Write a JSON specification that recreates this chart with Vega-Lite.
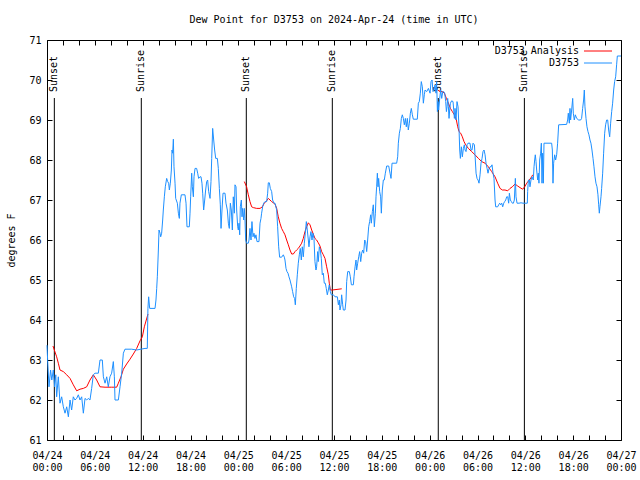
{
  "$schema": "https://vega.github.io/schema/vega-lite/v6.json",
  "width": 574,
  "height": 400,
  "autosize": {"type": "none"},
  "padding": {"left": 47, "top": 40, "right": 19, "bottom": 40},
  "background": "white",
  "config": {
    "view": {"stroke": "#000000", "strokeWidth": 1},
    "font": "DejaVu Sans Mono",
    "axis": {"domain": false, "grid": false, "tickColor": "#000000", "tickWidth": 1, "labelColor": "#000000", "labelFont": "DejaVu Sans Mono", "labelFontSize": 10, "titleFont": "DejaVu Sans Mono", "titleFontSize": 10, "titleFontWeight": "normal", "titleColor": "#000000"}
  },
  "title": {"text": "Dew Point for D3753 on 2024-Apr-24 (time in UTC)", "anchor": "middle", "font": "DejaVu Sans Mono", "fontSize": 10, "fontWeight": "normal", "color": "#000000", "offset": 10},
  "datasets": {
    "sun": [
      {"h": 0.92, "event": "Sunset"},
      {"h": 11.83, "event": "Sunrise"},
      {"h": 25.0, "event": "Sunset"},
      {"h": 35.79, "event": "Sunrise"},
      {"h": 49.08, "event": "Sunset"},
      {"h": 59.88, "event": "Sunrise"}
    ],
    "analysis": [
      {"h": 0.75, "v": 63.35, "seg": 1}, {"h": 0.92, "v": 63.25, "seg": 1}, {"h": 1.21, "v": 63.08, "seg": 1}, {"h": 1.42, "v": 62.92, "seg": 1}, {"h": 1.63, "v": 62.75, "seg": 1}, {"h": 2.05, "v": 62.71, "seg": 1}, {"h": 2.47, "v": 62.63, "seg": 1}, {"h": 2.89, "v": 62.54, "seg": 1}, {"h": 3.3, "v": 62.38, "seg": 1}, {"h": 3.72, "v": 62.23, "seg": 1}, {"h": 4.14, "v": 62.27, "seg": 1}, {"h": 4.56, "v": 62.29, "seg": 1}, {"h": 4.98, "v": 62.33, "seg": 1}, {"h": 5.39, "v": 62.5, "seg": 1}, {"h": 5.81, "v": 62.63, "seg": 1}, {"h": 6.23, "v": 62.5, "seg": 1}, {"h": 6.65, "v": 62.33, "seg": 1}, {"h": 7.28, "v": 62.32, "seg": 1}, {"h": 8.11, "v": 62.32, "seg": 1}, {"h": 8.74, "v": 62.32, "seg": 1}, {"h": 8.95, "v": 62.42, "seg": 1}, {"h": 9.28, "v": 62.58, "seg": 1}, {"h": 9.58, "v": 62.77, "seg": 1}, {"h": 9.99, "v": 62.9, "seg": 1}, {"h": 10.41, "v": 63.02, "seg": 1}, {"h": 10.83, "v": 63.15, "seg": 1}, {"h": 11.25, "v": 63.29, "seg": 1}, {"h": 11.67, "v": 63.48, "seg": 1}, {"h": 11.96, "v": 63.58, "seg": 1}, {"h": 12.21, "v": 63.83, "seg": 1}, {"h": 12.67, "v": 64.15, "seg": 1},
      {"h": 24.75, "v": 67.46, "seg": 2}, {"h": 25.04, "v": 67.33, "seg": 2}, {"h": 25.25, "v": 67.13, "seg": 2}, {"h": 25.46, "v": 66.96, "seg": 2}, {"h": 25.67, "v": 66.83, "seg": 2}, {"h": 25.88, "v": 66.81, "seg": 2}, {"h": 26.3, "v": 66.79, "seg": 2}, {"h": 26.72, "v": 66.79, "seg": 2}, {"h": 27.01, "v": 66.83, "seg": 2}, {"h": 27.26, "v": 66.92, "seg": 2}, {"h": 27.55, "v": 66.98, "seg": 2}, {"h": 27.76, "v": 67.04, "seg": 2}, {"h": 28.18, "v": 66.96, "seg": 2}, {"h": 28.6, "v": 66.9, "seg": 2}, {"h": 28.81, "v": 66.79, "seg": 2}, {"h": 29.01, "v": 66.58, "seg": 2}, {"h": 29.22, "v": 66.42, "seg": 2}, {"h": 29.43, "v": 66.29, "seg": 2}, {"h": 29.64, "v": 66.21, "seg": 2}, {"h": 29.85, "v": 66.13, "seg": 2}, {"h": 30.06, "v": 66.0, "seg": 2}, {"h": 30.27, "v": 65.88, "seg": 2}, {"h": 30.48, "v": 65.75, "seg": 2}, {"h": 30.69, "v": 65.65, "seg": 2}, {"h": 30.9, "v": 65.65, "seg": 2}, {"h": 31.11, "v": 65.71, "seg": 2}, {"h": 31.31, "v": 65.75, "seg": 2}, {"h": 31.52, "v": 65.79, "seg": 2}, {"h": 31.73, "v": 65.85, "seg": 2}, {"h": 31.94, "v": 65.92, "seg": 2}, {"h": 32.15, "v": 66.04, "seg": 2}, {"h": 32.36, "v": 66.21, "seg": 2}, {"h": 32.57, "v": 66.33, "seg": 2}, {"h": 32.78, "v": 66.43, "seg": 2}, {"h": 32.99, "v": 66.38, "seg": 2}, {"h": 33.2, "v": 66.25, "seg": 2}, {"h": 33.4, "v": 66.15, "seg": 2}, {"h": 33.61, "v": 66.04, "seg": 2}, {"h": 33.82, "v": 66.0, "seg": 2}, {"h": 34.03, "v": 65.93, "seg": 2}, {"h": 34.24, "v": 65.85, "seg": 2}, {"h": 34.45, "v": 65.71, "seg": 2}, {"h": 34.66, "v": 65.63, "seg": 2}, {"h": 34.87, "v": 65.54, "seg": 2}, {"h": 35.08, "v": 65.33, "seg": 2}, {"h": 35.29, "v": 65.13, "seg": 2}, {"h": 35.41, "v": 64.92, "seg": 2}, {"h": 35.54, "v": 64.75, "seg": 2}, {"h": 35.79, "v": 64.75, "seg": 2}, {"h": 36.97, "v": 64.78, "seg": 2},
      {"h": 49.01, "v": 69.75, "seg": 3}, {"h": 49.3, "v": 69.71, "seg": 3}, {"h": 49.59, "v": 69.71, "seg": 3}, {"h": 49.84, "v": 69.67, "seg": 3}, {"h": 50.1, "v": 69.54, "seg": 3}, {"h": 50.35, "v": 69.42, "seg": 3}, {"h": 50.6, "v": 69.29, "seg": 3}, {"h": 50.85, "v": 69.21, "seg": 3}, {"h": 51.1, "v": 69.13, "seg": 3}, {"h": 51.35, "v": 69.0, "seg": 3}, {"h": 51.52, "v": 68.83, "seg": 3}, {"h": 51.68, "v": 68.71, "seg": 3}, {"h": 51.89, "v": 68.67, "seg": 3}, {"h": 52.1, "v": 68.58, "seg": 3}, {"h": 52.31, "v": 68.46, "seg": 3}, {"h": 52.52, "v": 68.38, "seg": 3}, {"h": 52.85, "v": 68.29, "seg": 3}, {"h": 53.27, "v": 68.21, "seg": 3}, {"h": 53.69, "v": 68.13, "seg": 3}, {"h": 54.11, "v": 68.04, "seg": 3}, {"h": 54.53, "v": 67.96, "seg": 3}, {"h": 54.95, "v": 67.92, "seg": 3}, {"h": 55.36, "v": 67.83, "seg": 3}, {"h": 55.78, "v": 67.71, "seg": 3}, {"h": 56.2, "v": 67.58, "seg": 3}, {"h": 56.53, "v": 67.42, "seg": 3}, {"h": 56.83, "v": 67.29, "seg": 3}, {"h": 57.12, "v": 67.25, "seg": 3}, {"h": 57.45, "v": 67.25, "seg": 3}, {"h": 57.79, "v": 67.23, "seg": 3}, {"h": 58.08, "v": 67.29, "seg": 3}, {"h": 58.37, "v": 67.33, "seg": 3}, {"h": 58.71, "v": 67.4, "seg": 3}, {"h": 59.04, "v": 67.35, "seg": 3}, {"h": 59.33, "v": 67.31, "seg": 3}, {"h": 59.66, "v": 67.27, "seg": 3}, {"h": 59.92, "v": 67.33, "seg": 3}, {"h": 60.17, "v": 67.42, "seg": 3}, {"h": 60.5, "v": 67.5, "seg": 3}, {"h": 60.79, "v": 67.58, "seg": 3}, {"h": 60.92, "v": 67.63, "seg": 3}
    ],
    "obs": [
      {"h": 0, "v": 63.37}, {"h": 0.08, "v": 63.0}, {"h": 0.25, "v": 62.33}, {"h": 0.45, "v": 62.75}, {"h": 0.6, "v": 62.5}, {"h": 0.79, "v": 62.75}, {"h": 0.95, "v": 62.33}, {"h": 1.1, "v": 62.63}, {"h": 1.21, "v": 62.08}, {"h": 1.42, "v": 62.58}, {"h": 1.63, "v": 61.92}, {"h": 1.84, "v": 62.08}, {"h": 2.05, "v": 61.83}, {"h": 2.26, "v": 61.67}, {"h": 2.47, "v": 61.83}, {"h": 2.68, "v": 61.58}, {"h": 2.89, "v": 62.0}, {"h": 3.09, "v": 61.75}, {"h": 3.3, "v": 62.08}, {"h": 3.51, "v": 62.0}, {"h": 3.72, "v": 62.04}, {"h": 3.93, "v": 62.13}, {"h": 4.14, "v": 62.0}, {"h": 4.35, "v": 62.08}, {"h": 4.56, "v": 61.67}, {"h": 4.77, "v": 62.04}, {"h": 4.98, "v": 62.0}, {"h": 5.18, "v": 62.04}, {"h": 5.39, "v": 62.0}, {"h": 5.6, "v": 62.29}, {"h": 5.81, "v": 62.63}, {"h": 6.02, "v": 62.67}, {"h": 6.44, "v": 62.67}, {"h": 6.65, "v": 63.0}, {"h": 6.94, "v": 63.0}, {"h": 7.07, "v": 62.58}, {"h": 7.28, "v": 62.42}, {"h": 7.49, "v": 62.58}, {"h": 7.69, "v": 62.33}, {"h": 7.9, "v": 62.58}, {"h": 8.11, "v": 62.67}, {"h": 8.32, "v": 62.96}, {"h": 8.45, "v": 62.58}, {"h": 8.53, "v": 62.0}, {"h": 8.95, "v": 62.0}, {"h": 9.16, "v": 62.33}, {"h": 9.37, "v": 62.67}, {"h": 9.58, "v": 63.17}, {"h": 9.78, "v": 63.27}, {"h": 10.62, "v": 63.27}, {"h": 11.25, "v": 63.25}, {"h": 12.29, "v": 63.29}, {"h": 12.58, "v": 63.29}, {"h": 12.66, "v": 64.29}, {"h": 12.75, "v": 64.58}, {"h": 12.88, "v": 64.29}, {"h": 13.55, "v": 64.29}, {"h": 13.67, "v": 64.5}, {"h": 13.76, "v": 64.79}, {"h": 13.84, "v": 65.08}, {"h": 13.97, "v": 65.75}, {"h": 14.05, "v": 66.25}, {"h": 14.18, "v": 66.17}, {"h": 14.26, "v": 66.08}, {"h": 14.38, "v": 66.17}, {"h": 14.51, "v": 66.5}, {"h": 14.59, "v": 66.75}, {"h": 14.72, "v": 67.08}, {"h": 14.84, "v": 67.33}, {"h": 15.01, "v": 67.54}, {"h": 15.14, "v": 67.46}, {"h": 15.26, "v": 67.42}, {"h": 15.35, "v": 67.25}, {"h": 15.47, "v": 67.42}, {"h": 15.6, "v": 67.75}, {"h": 15.68, "v": 68.25}, {"h": 15.76, "v": 68.17}, {"h": 15.85, "v": 68.52}, {"h": 15.93, "v": 67.83}, {"h": 16.06, "v": 67.42}, {"h": 16.14, "v": 67.04}, {"h": 16.35, "v": 66.92}, {"h": 16.48, "v": 66.67}, {"h": 16.6, "v": 66.54}, {"h": 16.68, "v": 66.92}, {"h": 16.85, "v": 67.13}, {"h": 17.31, "v": 67.13}, {"h": 17.44, "v": 66.92}, {"h": 17.56, "v": 66.33}, {"h": 17.85, "v": 66.33}, {"h": 17.94, "v": 66.67}, {"h": 18.02, "v": 67.08}, {"h": 18.15, "v": 67.67}, {"h": 18.23, "v": 67.33}, {"h": 18.36, "v": 67.08}, {"h": 18.44, "v": 67.58}, {"h": 18.57, "v": 67.79}, {"h": 18.77, "v": 67.79}, {"h": 18.9, "v": 67.67}, {"h": 19.02, "v": 67.54}, {"h": 19.19, "v": 67.58}, {"h": 19.32, "v": 67.58}, {"h": 19.44, "v": 67.42}, {"h": 19.53, "v": 67.17}, {"h": 19.65, "v": 66.75}, {"h": 19.78, "v": 67.0}, {"h": 19.9, "v": 67.25}, {"h": 20.03, "v": 67.46}, {"h": 20.15, "v": 67.5}, {"h": 20.28, "v": 67.21}, {"h": 20.45, "v": 67.04}, {"h": 20.57, "v": 67.46}, {"h": 20.66, "v": 68.04}, {"h": 20.78, "v": 68.79}, {"h": 20.91, "v": 68.5}, {"h": 21.03, "v": 68.25}, {"h": 21.16, "v": 68.04}, {"h": 21.37, "v": 68.04}, {"h": 21.49, "v": 67.79}, {"h": 21.62, "v": 67.29}, {"h": 21.74, "v": 66.88}, {"h": 21.83, "v": 66.29}, {"h": 21.95, "v": 66.75}, {"h": 22.08, "v": 67.17}, {"h": 22.33, "v": 67.17}, {"h": 22.45, "v": 66.92}, {"h": 22.62, "v": 66.75}, {"h": 22.75, "v": 66.42}, {"h": 22.87, "v": 66.29}, {"h": 23.0, "v": 66.92}, {"h": 23.12, "v": 66.75}, {"h": 23.25, "v": 66.25}, {"h": 23.37, "v": 67.08}, {"h": 23.5, "v": 66.67}, {"h": 23.58, "v": 67.38},
      {"h": 23.71, "v": 67.33}, {"h": 23.79, "v": 66.75}, {"h": 23.92, "v": 66.33}, {"h": 24.0, "v": 66.25}, {"h": 24.08, "v": 66.42}, {"h": 24.17, "v": 66.13}, {"h": 24.25, "v": 66.83}, {"h": 24.38, "v": 67.0}, {"h": 24.46, "v": 66.58}, {"h": 24.54, "v": 66.79}, {"h": 24.67, "v": 66.5}, {"h": 24.75, "v": 66.79}, {"h": 24.83, "v": 66.54}, {"h": 24.92, "v": 66.0}, {"h": 25.04, "v": 65.92}, {"h": 25.25, "v": 65.92}, {"h": 25.34, "v": 66.0}, {"h": 25.46, "v": 66.29}, {"h": 25.59, "v": 66.0}, {"h": 25.71, "v": 66.46}, {"h": 25.84, "v": 66.08}, {"h": 25.96, "v": 66.17}, {"h": 26.09, "v": 66.04}, {"h": 26.21, "v": 66.13}, {"h": 26.34, "v": 65.96}, {"h": 26.59, "v": 65.96}, {"h": 26.72, "v": 66.42}, {"h": 26.84, "v": 66.54}, {"h": 26.92, "v": 66.67}, {"h": 27.05, "v": 66.83}, {"h": 27.18, "v": 66.92}, {"h": 27.34, "v": 66.96}, {"h": 27.55, "v": 66.96}, {"h": 27.68, "v": 67.17}, {"h": 27.76, "v": 67.43}, {"h": 27.89, "v": 67.43}, {"h": 28.01, "v": 67.29}, {"h": 28.18, "v": 67.21}, {"h": 28.3, "v": 67.0}, {"h": 28.47, "v": 66.92}, {"h": 28.6, "v": 66.92}, {"h": 28.81, "v": 66.75}, {"h": 28.93, "v": 66.33}, {"h": 29.06, "v": 65.83}, {"h": 29.18, "v": 65.57}, {"h": 29.43, "v": 65.57}, {"h": 29.64, "v": 65.63}, {"h": 29.77, "v": 65.57}, {"h": 29.85, "v": 65.5}, {"h": 29.98, "v": 65.29}, {"h": 30.1, "v": 65.21}, {"h": 30.23, "v": 65.17}, {"h": 30.35, "v": 65.08}, {"h": 30.48, "v": 65.0}, {"h": 30.69, "v": 64.83}, {"h": 30.81, "v": 64.71}, {"h": 30.94, "v": 64.58}, {"h": 31.06, "v": 64.54}, {"h": 31.15, "v": 64.38}, {"h": 31.27, "v": 64.79}, {"h": 31.4, "v": 65.13}, {"h": 31.52, "v": 65.42}, {"h": 31.65, "v": 65.63}, {"h": 31.77, "v": 65.79}, {"h": 31.9, "v": 65.5}, {"h": 32.02, "v": 65.83}, {"h": 32.15, "v": 65.58}, {"h": 32.28, "v": 65.92}, {"h": 32.4, "v": 66.17}, {"h": 32.53, "v": 66.46}, {"h": 32.65, "v": 66.25}, {"h": 32.78, "v": 66.0}, {"h": 32.86, "v": 65.83}, {"h": 32.99, "v": 66.08}, {"h": 33.11, "v": 66.21}, {"h": 33.24, "v": 66.0}, {"h": 33.36, "v": 66.17}, {"h": 33.49, "v": 66.04}, {"h": 33.61, "v": 65.46}, {"h": 33.74, "v": 65.25}, {"h": 33.82, "v": 65.33}, {"h": 33.95, "v": 65.71}, {"h": 34.03, "v": 65.46}, {"h": 34.16, "v": 65.83}, {"h": 34.28, "v": 65.75}, {"h": 34.41, "v": 65.54}, {"h": 34.53, "v": 65.13}, {"h": 34.66, "v": 65.17}, {"h": 34.78, "v": 64.92}, {"h": 34.91, "v": 64.92}, {"h": 35.03, "v": 64.79}, {"h": 35.16, "v": 64.63}, {"h": 35.29, "v": 64.75}, {"h": 35.41, "v": 64.88}, {"h": 35.54, "v": 64.71}, {"h": 35.66, "v": 64.63},
      {"h": 35.92, "v": 64.63}, {"h": 36.13, "v": 64.58}, {"h": 36.42, "v": 64.58}, {"h": 36.55, "v": 64.38}, {"h": 36.67, "v": 64.5}, {"h": 36.75, "v": 64.25}, {"h": 36.88, "v": 64.38}, {"h": 36.96, "v": 64.63}, {"h": 37.09, "v": 64.38}, {"h": 37.17, "v": 64.25}, {"h": 37.38, "v": 64.25}, {"h": 37.51, "v": 64.5}, {"h": 37.59, "v": 64.96}, {"h": 37.72, "v": 65.21}, {"h": 37.92, "v": 65.21}, {"h": 38.05, "v": 65.08}, {"h": 38.18, "v": 64.88}, {"h": 38.43, "v": 64.88}, {"h": 38.51, "v": 65.08}, {"h": 38.64, "v": 65.33}, {"h": 38.76, "v": 65.5}, {"h": 38.84, "v": 65.25}, {"h": 38.97, "v": 65.42}, {"h": 39.1, "v": 65.58}, {"h": 39.22, "v": 65.71}, {"h": 39.35, "v": 65.46}, {"h": 39.47, "v": 65.67}, {"h": 39.6, "v": 65.75}, {"h": 39.72, "v": 65.67}, {"h": 39.85, "v": 66.0}, {"h": 39.97, "v": 65.96}, {"h": 40.1, "v": 65.71}, {"h": 40.22, "v": 66.0}, {"h": 40.35, "v": 66.33}, {"h": 40.47, "v": 66.46}, {"h": 40.6, "v": 66.63}, {"h": 40.68, "v": 66.42}, {"h": 40.81, "v": 66.71}, {"h": 40.93, "v": 66.88}, {"h": 41.06, "v": 66.33}, {"h": 41.19, "v": 66.67}, {"h": 41.27, "v": 67.08}, {"h": 41.35, "v": 67.33}, {"h": 41.44, "v": 67.67}, {"h": 41.52, "v": 67.33}, {"h": 41.6, "v": 67.54}, {"h": 41.73, "v": 67.21}, {"h": 41.85, "v": 67.08}, {"h": 41.94, "v": 66.67}, {"h": 42.06, "v": 67.25}, {"h": 42.19, "v": 67.5}, {"h": 42.31, "v": 67.5}, {"h": 42.44, "v": 67.67}, {"h": 42.61, "v": 67.85}, {"h": 42.86, "v": 67.85}, {"h": 43.03, "v": 67.67}, {"h": 43.15, "v": 67.54}, {"h": 43.28, "v": 67.92}, {"h": 43.86, "v": 67.92}, {"h": 43.99, "v": 68.08}, {"h": 44.07, "v": 68.42}, {"h": 44.2, "v": 68.67}, {"h": 44.32, "v": 68.79}, {"h": 44.45, "v": 69.04}, {"h": 44.57, "v": 69.13}, {"h": 44.7, "v": 69.04}, {"h": 44.82, "v": 68.88}, {"h": 44.95, "v": 69.04}, {"h": 45.07, "v": 68.83}, {"h": 45.2, "v": 69.04}, {"h": 45.32, "v": 68.75}, {"h": 45.45, "v": 68.92}, {"h": 45.58, "v": 69.17}, {"h": 45.7, "v": 69.29}, {"h": 45.83, "v": 69.13}, {"h": 45.95, "v": 69.02}, {"h": 46.45, "v": 69.02}, {"h": 46.58, "v": 69.42}, {"h": 46.7, "v": 69.46}, {"h": 46.83, "v": 69.67}, {"h": 46.95, "v": 69.96}, {"h": 47.08, "v": 69.83}, {"h": 47.21, "v": 69.42}, {"h": 47.33, "v": 69.63},
      {"h": 47.42, "v": 69.75}, {"h": 47.63, "v": 69.71}, {"h": 47.84, "v": 69.79}, {"h": 48.05, "v": 69.67}, {"h": 48.17, "v": 69.96}, {"h": 48.3, "v": 70.0}, {"h": 48.42, "v": 69.71}, {"h": 48.55, "v": 69.75}, {"h": 48.67, "v": 69.88}, {"h": 48.8, "v": 69.67}, {"h": 48.88, "v": 69.96}, {"h": 48.97, "v": 69.21}, {"h": 49.05, "v": 69.46}, {"h": 49.13, "v": 69.25}, {"h": 49.26, "v": 69.54}, {"h": 49.38, "v": 69.75}, {"h": 49.51, "v": 69.54}, {"h": 49.64, "v": 69.71}, {"h": 49.76, "v": 69.71}, {"h": 49.89, "v": 69.67}, {"h": 50.01, "v": 69.46}, {"h": 50.1, "v": 69.21}, {"h": 50.18, "v": 69.33}, {"h": 50.26, "v": 69.54}, {"h": 50.35, "v": 69.33}, {"h": 50.43, "v": 69.04}, {"h": 50.51, "v": 69.25}, {"h": 50.6, "v": 69.42}, {"h": 50.76, "v": 69.48}, {"h": 50.93, "v": 69.46}, {"h": 51.02, "v": 69.25}, {"h": 51.1, "v": 69.04}, {"h": 51.18, "v": 69.29}, {"h": 51.31, "v": 69.0}, {"h": 51.43, "v": 69.46}, {"h": 51.56, "v": 69.33}, {"h": 51.68, "v": 68.79}, {"h": 51.77, "v": 68.25}, {"h": 51.85, "v": 68.04}, {"h": 51.98, "v": 68.33}, {"h": 52.1, "v": 68.08}, {"h": 52.23, "v": 68.29}, {"h": 52.35, "v": 68.38}, {"h": 52.44, "v": 68.25}, {"h": 52.56, "v": 68.21}, {"h": 52.69, "v": 68.38}, {"h": 52.81, "v": 68.42}, {"h": 53.06, "v": 68.42}, {"h": 53.19, "v": 68.25}, {"h": 53.31, "v": 68.25}, {"h": 53.44, "v": 68.42}, {"h": 53.61, "v": 68.38}, {"h": 53.69, "v": 68.13}, {"h": 53.82, "v": 67.67}, {"h": 53.94, "v": 67.54}, {"h": 54.07, "v": 67.5}, {"h": 54.19, "v": 67.42}, {"h": 54.32, "v": 67.63}, {"h": 54.44, "v": 67.92}, {"h": 54.57, "v": 68.04}, {"h": 54.69, "v": 68.21}, {"h": 54.82, "v": 68.25}, {"h": 54.95, "v": 68.13}, {"h": 55.07, "v": 67.92}, {"h": 55.2, "v": 67.79}, {"h": 55.32, "v": 67.67}, {"h": 55.45, "v": 67.79}, {"h": 55.57, "v": 67.83}, {"h": 55.7, "v": 67.83}, {"h": 55.82, "v": 67.88}, {"h": 55.95, "v": 67.67}, {"h": 56.07, "v": 67.54}, {"h": 56.2, "v": 67.0}, {"h": 56.28, "v": 66.83}, {"h": 56.53, "v": 66.83}, {"h": 56.66, "v": 66.88}, {"h": 56.78, "v": 66.92}, {"h": 56.91, "v": 66.88}, {"h": 57.04, "v": 66.92}, {"h": 57.16, "v": 66.83}, {"h": 57.29, "v": 66.92}, {"h": 57.41, "v": 66.96}, {"h": 57.54, "v": 67.0}, {"h": 57.66, "v": 67.08}, {"h": 57.79, "v": 67.08}, {"h": 57.91, "v": 66.92}, {"h": 58.0, "v": 67.17}, {"h": 58.12, "v": 67.0}, {"h": 58.25, "v": 66.96}, {"h": 58.37, "v": 66.92}, {"h": 58.5, "v": 66.92}, {"h": 58.62, "v": 67.0}, {"h": 58.75, "v": 67.54}, {"h": 58.83, "v": 67.08}, {"h": 58.96, "v": 66.92}, {"h": 59.21, "v": 66.92}, {"h": 59.46, "v": 66.93}, {"h": 59.71, "v": 66.92},
      {"h": 60.25, "v": 66.92}, {"h": 60.29, "v": 67.21}, {"h": 60.38, "v": 67.5}, {"h": 60.5, "v": 67.5}, {"h": 60.58, "v": 67.33}, {"h": 60.71, "v": 67.5}, {"h": 60.83, "v": 67.58}, {"h": 61.0, "v": 67.5}, {"h": 61.09, "v": 67.83}, {"h": 61.17, "v": 68.0}, {"h": 61.25, "v": 68.13}, {"h": 61.34, "v": 67.96}, {"h": 61.42, "v": 67.75}, {"h": 61.55, "v": 67.5}, {"h": 61.63, "v": 67.67}, {"h": 61.71, "v": 67.42}, {"h": 61.8, "v": 68.0}, {"h": 61.92, "v": 68.17}, {"h": 62.01, "v": 68.42}, {"h": 62.09, "v": 67.42}, {"h": 62.17, "v": 68.17}, {"h": 62.26, "v": 67.42}, {"h": 62.34, "v": 68.42}, {"h": 63.3, "v": 68.42}, {"h": 63.39, "v": 68.25}, {"h": 63.47, "v": 67.42}, {"h": 63.55, "v": 67.92}, {"h": 63.68, "v": 68.13}, {"h": 63.8, "v": 68.0}, {"h": 63.93, "v": 68.13}, {"h": 64.05, "v": 68.42}, {"h": 64.18, "v": 68.88}, {"h": 65.18, "v": 68.89}, {"h": 65.31, "v": 69.0}, {"h": 65.39, "v": 69.17}, {"h": 65.52, "v": 68.92}, {"h": 65.6, "v": 69.29}, {"h": 65.68, "v": 69.0}, {"h": 65.81, "v": 69.25}, {"h": 65.94, "v": 69.54}, {"h": 66.02, "v": 69.17}, {"h": 66.14, "v": 69.0}, {"h": 66.27, "v": 69.13}, {"h": 66.44, "v": 69.04}, {"h": 66.69, "v": 69.0}, {"h": 66.94, "v": 69.0}, {"h": 67.06, "v": 69.04}, {"h": 67.19, "v": 69.29}, {"h": 67.31, "v": 69.5}, {"h": 67.4, "v": 69.75}, {"h": 67.48, "v": 69.33}, {"h": 67.61, "v": 69.04}, {"h": 67.73, "v": 68.83}, {"h": 67.86, "v": 68.71}, {"h": 67.98, "v": 68.63}, {"h": 68.11, "v": 68.5}, {"h": 68.23, "v": 68.42}, {"h": 68.36, "v": 68.25}, {"h": 68.49, "v": 68.04}, {"h": 68.61, "v": 67.83}, {"h": 68.74, "v": 67.58}, {"h": 68.86, "v": 67.42}, {"h": 68.99, "v": 67.33}, {"h": 69.11, "v": 67.13}, {"h": 69.2, "v": 66.88}, {"h": 69.28, "v": 66.67}, {"h": 69.36, "v": 66.83}, {"h": 69.49, "v": 67.08}, {"h": 69.57, "v": 67.29}, {"h": 69.7, "v": 67.67}, {"h": 69.82, "v": 68.17}, {"h": 69.95, "v": 68.67}, {"h": 70.07, "v": 68.88}, {"h": 70.2, "v": 69.0}, {"h": 70.33, "v": 69.0}, {"h": 70.45, "v": 68.75}, {"h": 70.58, "v": 68.58}, {"h": 70.7, "v": 68.92}, {"h": 70.83, "v": 69.21}, {"h": 70.95, "v": 69.42}, {"h": 71.08, "v": 69.75}, {"h": 71.2, "v": 69.96}, {"h": 71.33, "v": 70.08}, {"h": 71.45, "v": 70.38}, {"h": 71.54, "v": 70.6}, {"h": 72.0, "v": 70.6}
    ]
  },
  "layer": [
    {
      "data": {"name": "sun"},
      "mark": {"type": "rule", "color": "#000000", "strokeWidth": 1},
      "encoding": {
        "x": {"field": "h", "type": "quantitative", "scale": {"domain": [0, 72], "nice": false, "zero": false},
          "axis": {"orient": "bottom", "title": null, "values": [0,2,4,6,8,10,12,14,16,18,20,22,24,26,28,30,32,34,36,38,40,42,44,46,48,50,52,54,56,58,60,62,64,66,68,70,72], "tickSize": -5, "labelPadding": 15, "labelOverlap": false, "labelFlush": false, "labelLineHeight": 12, "labelBound": false,
            "labelExpr": "datum.value % 6 == 0 ? ['04/' + (24 + floor(datum.value / 24)), (datum.value % 24 < 10 ? '0' : '') + (datum.value % 24) + ':00'] : ''"}},
        "y": {"datum": 69.55, "type": "quantitative", "scale": {"domain": [61, 71], "nice": false, "zero": false},
          "axis": {"orient": "left", "title": "degrees F", "titlePadding": 12, "values": [61,62,63,64,65,66,67,68,69,70,71], "tickSize": -5, "labelPadding": 11, "labelOverlap": false, "labelFlush": false}},
        "y2": {"datum": 61}
      }
    },
    {
      "data": {"name": "sun"},
      "mark": {"type": "text", "angle": 270, "align": "left", "baseline": "middle", "font": "DejaVu Sans Mono", "fontSize": 10, "color": "#000000"},
      "encoding": {
        "x": {"field": "h", "type": "quantitative", "scale": {"domain": [0, 72], "nice": false, "zero": false},
          "axis": {"orient": "top", "title": null, "labels": false, "values": [0,2,4,6,8,10,12,14,16,18,20,22,24,26,28,30,32,34,36,38,40,42,44,46,48,50,52,54,56,58,60,62,64,66,68,70,72], "tickSize": -5}},
        "y": {"datum": 69.7, "type": "quantitative", "scale": {"domain": [61, 71], "nice": false, "zero": false},
          "axis": {"orient": "right", "title": null, "labels": false, "values": [61,62,63,64,65,66,67,68,69,70,71], "tickSize": -5}},
        "text": {"field": "event"}
      }
    },
    {
      "data": {"name": "analysis"},
      "mark": {"type": "line", "strokeWidth": 1},
      "encoding": {
        "x": {"field": "h", "type": "quantitative", "scale": {"domain": [0, 72], "nice": false, "zero": false}, "axis": null},
        "y": {"field": "v", "type": "quantitative", "scale": {"domain": [61, 71], "nice": false, "zero": false}, "axis": null},
        "detail": {"field": "seg", "type": "nominal"},
        "color": {"datum": "D3753 Analysis", "type": "nominal",
          "scale": {"domain": ["D3753 Analysis", "D3753"], "range": ["#ff0000", "#1e90ff"]},
          "legend": {"orient": "top-right", "offset": 6, "padding": 0, "title": null, "symbolType": "M -4.67 0 H 4.67", "symbolSize": 36, "symbolStrokeWidth": 1, "symbolFillColor": "transparent", "labelAlign": "right", "labelOffset": -24, "labelFont": "DejaVu Sans Mono", "labelFontSize": 10, "labelColor": "#000000", "rowPadding": 2}}
      }
    },
    {
      "data": {"name": "obs"},
      "mark": {"type": "line", "strokeWidth": 1},
      "encoding": {
        "x": {"field": "h", "type": "quantitative", "scale": {"domain": [0, 72], "nice": false, "zero": false}, "axis": null},
        "y": {"field": "v", "type": "quantitative", "scale": {"domain": [61, 71], "nice": false, "zero": false}, "axis": null},
        "color": {"datum": "D3753", "type": "nominal"}
      }
    }
  ],
  "resolve": {"axis": {"x": "independent", "y": "independent"}}
}
